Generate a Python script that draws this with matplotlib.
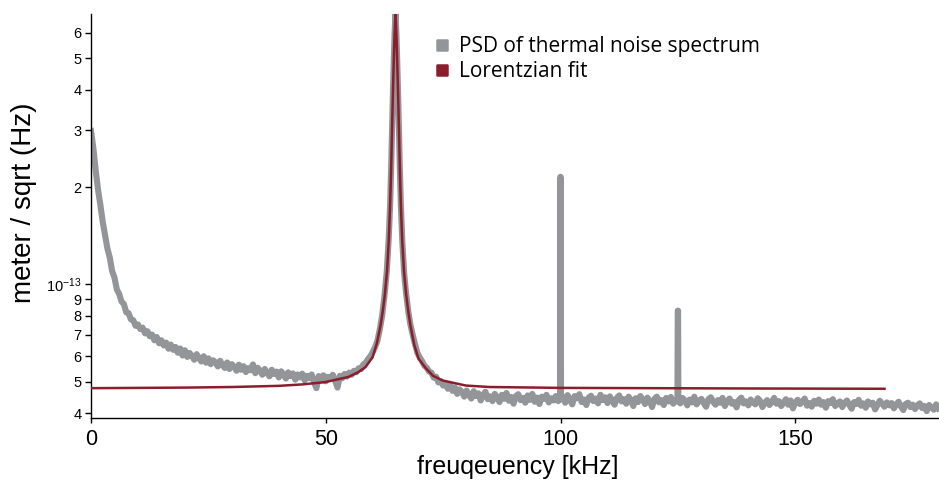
import numpy as np
import matplotlib
matplotlib.use('Agg')
import matplotlib.pyplot as plt
import matplotlib.ticker as mticker
from matplotlib.lines import Line2D
from matplotlib.markers import MarkerStyle

plt.rcParams['font.family'] = ['Liberation Sans', 'DejaVu Sans']
plt.rcParams['mathtext.default'] = 'regular'

GRAY = '#939598'
RED = '#8b1d2c'

# thermal noise PSD, values in 1e-13 m/sqrt(Hz)
# part 1: 0 .. 59.5 kHz, 0.5 kHz steps
psd_low = [
    2.98, 2.64, 2.25, 1.96, 1.76, 1.56, 1.42, 1.29, 1.21, 1.10,
    1.05, 0.965, 0.935, 0.885, 0.87, 0.82, 0.815, 0.78, 0.775, 0.745,
    0.752, 0.728, 0.735, 0.706, 0.717, 0.692, 0.70, 0.672, 0.688, 0.658,
    0.672, 0.648, 0.661, 0.633, 0.652, 0.628, 0.641, 0.615, 0.634, 0.603,
    0.626, 0.597, 0.614, 0.601, 0.585, 0.609, 0.592, 0.578, 0.60, 0.573,
    0.591, 0.567, 0.583, 0.575, 0.558, 0.581, 0.564, 0.552, 0.574, 0.548,
    0.567, 0.556, 0.541, 0.565, 0.545, 0.559, 0.536, 0.551, 0.543, 0.566,
    0.532, 0.553, 0.541, 0.526, 0.548, 0.534, 0.52, 0.545, 0.529, 0.538,
    0.516, 0.539, 0.527, 0.512, 0.535, 0.521, 0.531, 0.508, 0.527, 0.516,
    0.53, 0.505, 0.522, 0.513, 0.527, 0.499, 0.478, 0.521, 0.509, 0.524,
    0.502, 0.518, 0.511, 0.526, 0.504, 0.48, 0.522, 0.513, 0.529, 0.519,
    0.534, 0.526, 0.541, 0.535, 0.551, 0.547, 0.566, 0.572, 0.588, 0.60,
]
# part 2: resonance
psd_peak_f = [60.0, 60.5, 61.0, 61.5, 62.0, 62.5, 63.0, 63.4, 63.7, 63.93,
              64.05, 64.21, 64.35, 64.45, 64.55, 64.65, 64.75, 64.85, 64.95, 65.05,
              65.15, 65.25, 65.35, 65.49, 65.65, 65.77, 66.0, 66.3, 66.7, 67.1,
              67.6, 68.0, 68.5, 69.0, 69.5, 70.0]
psd_peak = [0.618, 0.64, 0.67, 0.725, 0.80, 0.92, 1.1, 1.38, 1.75, 2.3,
            2.75, 3.45, 4.15, 4.7, 5.3, 5.9, 6.4, 6.9, 6.4, 5.9,
            5.3, 4.7, 4.15, 3.45, 2.75, 2.3, 1.75, 1.36, 1.08, 0.94,
            0.82, 0.755, 0.70, 0.655, 0.615, 0.595]
# part 3: 70.5 .. 99.5 kHz
psd_mid = [
    0.58, 0.561, 0.553, 0.538, 0.534, 0.515, 0.519, 0.498, 0.503, 0.487,
    0.495, 0.476, 0.488, 0.469, 0.481, 0.459, 0.474, 0.466, 0.45, 0.47,
    0.455, 0.444, 0.468, 0.452, 0.461, 0.438, 0.455, 0.466, 0.442, 0.451,
    0.436, 0.459, 0.447, 0.433, 0.456, 0.443, 0.462, 0.437, 0.449, 0.428,
    0.452, 0.458, 0.439, 0.446, 0.431, 0.454, 0.44, 0.459, 0.434, 0.447,
    0.427, 0.45, 0.443, 0.456, 0.432, 0.445, 0.438, 0.452, 0.436,
]
# spike at 100 kHz
spike1_f = [99.9, 99.97, 100.03, 100.1]
spike1 = [0.441, 2.15, 2.15, 0.443]
# part 4: 100.5 .. 124.5 kHz
psd_mid2 = [
    0.449, 0.431, 0.455, 0.44, 0.426, 0.452, 0.445, 0.458, 0.433, 0.441,
    0.424, 0.447, 0.453, 0.436, 0.444, 0.429, 0.456, 0.439, 0.448, 0.43,
    0.451, 0.437, 0.425, 0.446, 0.454, 0.435, 0.442, 0.428, 0.45, 0.439,
    0.421, 0.445, 0.433, 0.452, 0.44, 0.427, 0.447, 0.436, 0.418, 0.443,
    0.45, 0.432, 0.439, 0.424, 0.446, 0.435, 0.449, 0.428, 0.437,
]
# spike at 125 kHz
spike2_f = [124.9, 124.97, 125.03, 125.1]
spike2 = [0.436, 0.83, 0.83, 0.437]
# part 5: 125.5 .. 180.5 kHz
psd_high = [
    0.429, 0.446, 0.438, 0.423, 0.441, 0.432, 0.45, 0.426, 0.437, 0.443,
    0.43, 0.419, 0.442, 0.448, 0.434, 0.425, 0.439, 0.431, 0.446, 0.421,
    0.436, 0.444, 0.428, 0.433, 0.417, 0.44, 0.447, 0.429, 0.435, 0.423,
    0.441, 0.432, 0.426, 0.445, 0.437, 0.418, 0.43, 0.439, 0.424, 0.434,
    0.446, 0.428, 0.436, 0.421, 0.431, 0.442, 0.425, 0.438, 0.414, 0.432,
    0.44, 0.427, 0.435, 0.444, 0.422, 0.43, 0.419, 0.437, 0.428, 0.441,
    0.425, 0.433, 0.416, 0.436, 0.43, 0.442, 0.421, 0.429, 0.435, 0.418,
    0.431, 0.438, 0.424, 0.413, 0.433, 0.427, 0.44, 0.422, 0.429, 0.416,
    0.435, 0.426, 0.431, 0.411, 0.424, 0.437, 0.428, 0.419, 0.432, 0.423,
    0.43, 0.414, 0.426, 0.434, 0.42, 0.409, 0.427, 0.431, 0.418, 0.425,
    0.412, 0.423, 0.429, 0.415, 0.421, 0.406, 0.424, 0.417, 0.41, 0.426,
    0.414,
]

# Lorentzian fit, values in 1e-13 m/sqrt(Hz)
fit_f = [0, 10, 20, 30, 40, 45, 49.85, 54.85, 56.85, 58.45,
         59.95, 60.85, 61.69, 62.15, 62.58, 63.05, 63.43, 63.7, 63.93, 64.05,
         64.21, 64.35, 64.45, 64.55, 64.65, 64.75, 64.85, 64.95, 65.05, 65.15,
         65.25, 65.35, 65.49, 65.65, 65.77, 66.0, 66.27, 66.65, 67.12, 67.55,
         68.01, 68.85, 69.75, 71.25, 72.85, 74.85, 79.85, 84.85, 90, 100,
         120, 140, 169]
fit_v = [0.478, 0.479, 0.48, 0.482, 0.486, 0.491, 0.499, 0.518, 0.535, 0.555,
         0.595, 0.655, 0.75, 0.83, 0.93, 1.1, 1.38, 1.75, 2.3, 2.75,
         3.45, 4.15, 4.7, 5.3, 5.9, 6.4, 6.9, 6.4, 5.9, 5.3,
         4.7, 4.15, 3.45, 2.75, 2.3, 1.75, 1.38, 1.1, 0.93, 0.83,
         0.75, 0.65, 0.59, 0.552, 0.522, 0.505, 0.487, 0.482, 0.481, 0.479,
         0.478, 0.477, 0.476]

ytick_vals = [4e-14, 5e-14, 6e-14, 7e-14, 8e-14, 9e-14, 1e-13,
              2e-13, 3e-13, 4e-13, 5e-13, 6e-13]
ytick_labels = ['4', '5', '6', '7', '8', '9', '$10^{-13}$',
                '2', '3', '4', '5', '6']
xtick_vals = [0, 50, 100, 150]

f_low = 0.0 + 0.5 * np.arange(len(psd_low))
f_mid = 70.5 + 0.5 * np.arange(len(psd_mid))
f_mid2 = 100.5 + 0.5 * np.arange(len(psd_mid2))
f_high = 125.5 + 0.5 * np.arange(len(psd_high))

psd_f = np.concatenate([f_low, psd_peak_f, f_mid, spike1_f, f_mid2, spike2_f, f_high])
psd_v = np.concatenate([psd_low, psd_peak, psd_mid, spike1, psd_mid2, spike2, psd_high]) * 1e-13

fig = plt.figure(figsize=(9.39, 4.8), dpi=100)
ax = fig.add_axes([91 / 939, 1 - 417.5 / 480, 847.5 / 939, 403.5 / 480])

ax.plot(psd_f, psd_v, color=GRAY, lw=4.4, zorder=2)
ax.plot(fit_f, np.array(fit_v) * 1e-13, color=RED, lw=1.8, zorder=3)

ax.set_yscale('log')
ax.set_xlim(0, 180.5)
ax.set_ylim(3.88e-14, 6.85e-13)
ax.set_yticks(ytick_vals, ytick_labels)
ax.yaxis.set_minor_locator(mticker.NullLocator())
ax.set_xticks(xtick_vals)

for s in ['top', 'right']:
    ax.spines[s].set_visible(False)
for s in ['left', 'bottom']:
    ax.spines[s].set_linewidth(1.0)

ax.tick_params(axis='y', length=4, width=1, pad=3, labelsize=10.5)
ax.tick_params(axis='x', length=3.5, width=1, pad=5, labelsize=15.5)

ax.set_xlabel('freuqeuency [kHz]', fontsize=18)
ax.set_ylabel('meter / sqrt (Hz)', fontsize=20)
ax.xaxis.set_label_coords(0.504, -0.093)
ax.yaxis.set_label_coords(-0.064, 0.532)

sq = MarkerStyle('s', joinstyle='round')
handles = [Line2D([], [], ls='none', marker=sq, ms=7.8, mfc=GRAY, mec=GRAY, mew=1.8),
           Line2D([], [], ls='none', marker=sq, ms=7.8, mfc=RED, mec=RED, mew=1.8)]
ax.legend(handles, ['PSD of thermal noise spectrum', 'Lorentzian fit'],
          loc='upper left', bbox_to_anchor=(434 / 939, 1 - 36 / 480),
          bbox_transform=fig.transFigure, frameon=False,
          handlelength=0.8, handletextpad=0.4, borderpad=0, borderaxespad=0,
          labelspacing=0.2, prop={'family': 'Open Sans', 'size': 15})

fig.savefig('out.png', dpi=100)
